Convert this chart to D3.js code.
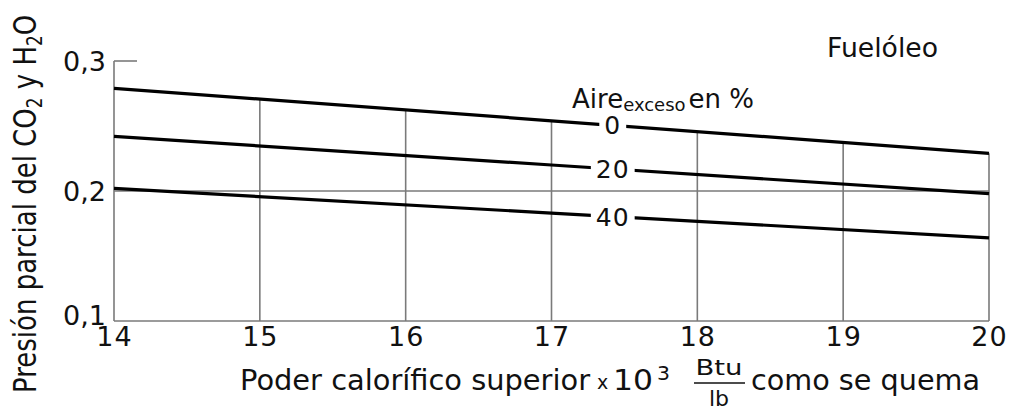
<!DOCTYPE html>
<html>
<head>
<meta charset="utf-8">
<script src="https://cdn.jsdelivr.net/npm/d3@7.9.0/dist/d3.min.js"></script>
<style>
  html, body { margin: 0; padding: 0; background: #fff; }
  svg { display: block; font-family: 'DejaVu Sans', sans-serif; }
  text { fill: #111; }
</style>
</head>
<body>
<svg id="chart" width="1016" height="411"></svg>
<script>
// values
const xVals = [14, 17, 20];
const excessAir = ['0', '20', '40'];
const air0 = [0.279, 0.254, 0.229];
const air20 = [0.242, 0.220, 0.198];
const air40 = [0.202, 0.183, 0.164];
const xTicks = [14, 15, 16, 17, 18, 19, 20];
const yTicks = [0.1, 0.2, 0.3];
const labelAt = 17.42;

const series = [air0, air20, air40];

const svg = d3.select('#chart');
const x = d3.scaleLinear().domain([14, 20]).range([114, 989]);
const y = d3.scaleLinear().domain([0.1, 0.3]).range([321, 61]);

// y of the 0% line at any x (used to cut the vertical grid lines)
const topLine = d3.scaleLinear().domain(xVals).range(air0);

const grid = svg.append('g')
    .attr('stroke', '#7a7a7a')
    .attr('stroke-width', 1.6)
    .attr('fill', 'none');

// left axis line + short tick at 0,3
grid.append('line')
    .attr('x1', x(14)).attr('x2', x(14))
    .attr('y1', y(0.1)).attr('y2', y(0.3));
grid.append('line')
    .attr('x1', x(14)).attr('x2', x(14) + 23)
    .attr('y1', y(0.3)).attr('y2', y(0.3));
// bottom axis + 0,2 grid line
[0.1, 0.2].forEach(v => {
    grid.append('line')
        .attr('x1', x(14)).attr('x2', x(20))
        .attr('y1', y(v)).attr('y2', y(v));
});
// vertical grid, up to the 0% line
xTicks.slice(1).forEach(t => {
    grid.append('line')
        .attr('x1', x(t)).attr('x2', x(t))
        .attr('y1', y(0.1)).attr('y2', y(topLine(t)));
});

// curves
const line = d3.line()
    .x((d, i) => x(xVals[i]))
    .y(d => y(d));

svg.append('g').selectAll('path')
    .data(series)
    .join('path')
    .attr('d', d => line(d))
    .attr('fill', 'none')
    .attr('stroke', '#000')
    .attr('stroke-width', 3.2);

// curve labels with white gap behind them
series.forEach((s, i) => {
    const yv = d3.scaleLinear().domain(xVals).range(s)(labelAt);
    const g = svg.append('g')
        .attr('transform', `translate(${x(labelAt)},${y(yv)})`);
    const t = g.append('text')
        .attr('text-anchor', 'middle')
        .attr('dy', '0.36em')
        .attr('font-size', 25)
        .attr('letter-spacing', 1)
        .text(excessAir[i]);
    const bb = t.node().getBBox();
    g.insert('rect', 'text')
        .attr('x', bb.x - 5).attr('y', bb.y + 4)
        .attr('width', bb.width + 10).attr('height', bb.height - 8)
        .attr('fill', '#fff');
});

// x axis labels
const xAxis = svg.append('g')
    .attr('transform', `translate(0,${y(0.1)})`)
    .call(d3.axisBottom(x).tickValues(xTicks).tickSize(0).tickPadding(6).tickFormat(d3.format('d')));
xAxis.select('.domain').remove();
xAxis.selectAll('text')
    .attr('font-size', 27)
    .attr('font-family', 'DejaVu Sans')
    .attr('fill', '#111')
    .attr('letter-spacing', 1);

// y axis labels
const yAxis = svg.append('g')
    .attr('transform', `translate(${x(14)},0)`)
    .call(d3.axisLeft(y).tickValues(yTicks).tickSize(0).tickPadding(8)
        .tickFormat(d => d3.format('.1f')(d).replace('.', ',')));
yAxis.select('.domain').remove();
yAxis.selectAll('text')
    .attr('font-size', 27)
    .attr('font-family', 'DejaVu Sans')
    .attr('fill', '#111')
    .attr('dy', d => d === 0.1 ? '0.12em' : '0.36em');

// title top right
svg.append('text')
    .attr('x', 827).attr('y', 57)
    .attr('font-size', 26)
    .attr('textLength', 111)
    .attr('lengthAdjust', 'spacingAndGlyphs')
    .text('Fuelóleo');

// legend heading
const aire = svg.append('text')
    .attr('x', 572).attr('y', 108)
    .attr('font-size', 26);
aire.append('tspan').text('Aire');
aire.append('tspan').attr('font-size', 18).attr('dy', 3).text('exceso');
aire.append('tspan').attr('dy', -3).attr('dx', 3).text('en %');

// y axis title (image is a bit stretched sideways)
const yt = svg.append('text')
    .attr('transform', 'translate(36,393) scale(1.2,1) rotate(-90)')
    .attr('font-size', 26);
yt.append('tspan').text('Presión parcial del CO');
yt.append('tspan').attr('font-size', 17).attr('dy', 5).text('2');
yt.append('tspan').attr('dy', -5).text(' y H');
yt.append('tspan').attr('font-size', 17).attr('dy', 5).text('2');
yt.append('tspan').attr('dy', -5).text('O');

// x axis title with the Btu/lb fraction
const xTitle = svg.append('g').attr('font-size', 28);
const piece = (px, py, size, len, txt, anchor) => {
    const t = xTitle.append('text')
        .attr('x', px).attr('y', py)
        .attr('font-size', size)
        .attr('text-anchor', anchor || 'start')
        .text(txt);
    if (len) t.attr('textLength', len).attr('lengthAdjust', 'spacingAndGlyphs');
    return t;
};
piece(240, 390, 28, 350, 'Poder calorífico superior');
piece(597, 389, 19, null, 'x');
piece(613, 390, 28, 40, '10');
piece(657, 380, 19, 13, '3');
piece(719, 375, 21, 47, 'Btu', 'middle');
xTitle.append('line')
    .attr('x1', 694).attr('x2', 745)
    .attr('y1', 383).attr('y2', 383)
    .attr('stroke', '#111').attr('stroke-width', 1.5);
piece(719, 406, 22, null, 'lb', 'middle');
piece(751, 390, 28, 229, 'como se quema');
</script>
</body>
</html>
